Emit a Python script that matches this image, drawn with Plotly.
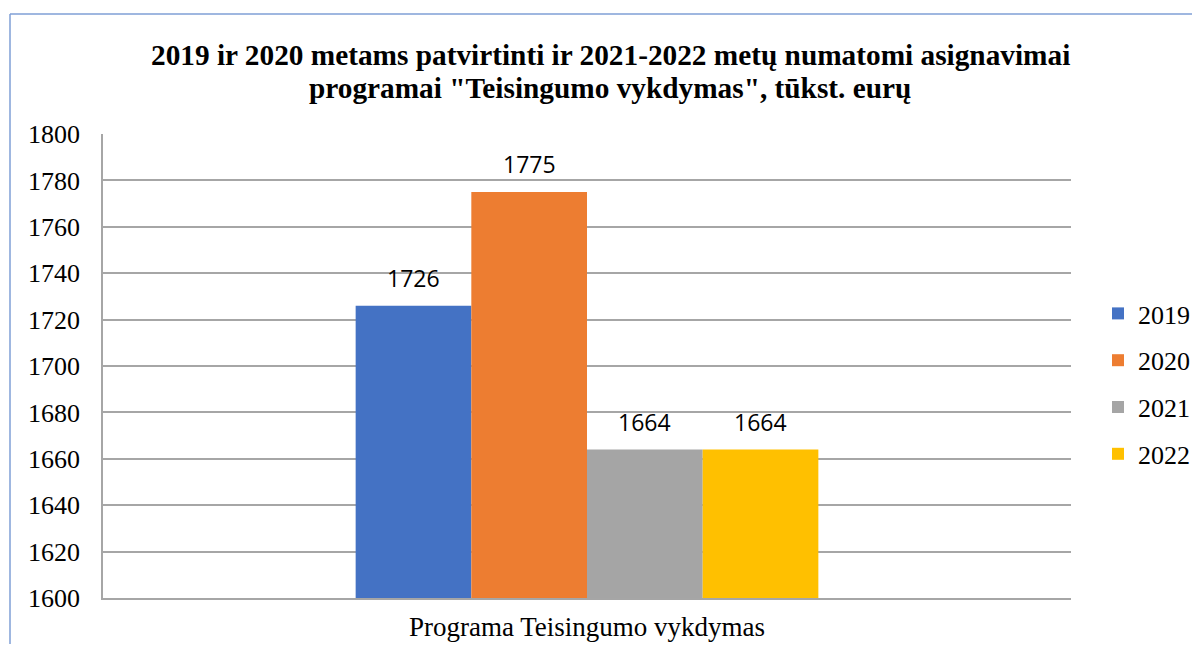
import plotly.graph_objects as go

title_lines = ['2019 ir 2020 metams patvirtinti ir 2021-2022 metų numatomi asignavimai',
               'programai "Teisingumo vykdymas", tūkst. eurų']
category = ['Programa Teisingumo vykdymas']
years = ['2019', '2020', '2021', '2022']
values = [1726, 1775, 1664, 1664]
colors = ['#4472C4', '#ED7D31', '#A5A5A5', '#FFC000']
y_ticks = [1600, 1620, 1640, 1660, 1680, 1700, 1720, 1740, 1760, 1780, 1800]

OFF = 8  # default page body margin
W, H = 1200 - 2 * OFF, 652 - 2 * OFF
ML, MT = 103 - OFF, 134 - OFF
MR = OFF + W - 1071
MB = OFF + H - 598
PW = W - ML - MR
PH = H - MT - MB
BARGAP = 0.522
bar_px = PW * (1 - BARGAP) / len(years)


def px_x(x):
    return (x - OFF - ML) / PW


def px_y(y):
    return (H - MB - (y - OFF)) / PH


fig = go.Figure()
for i, (yr, v, c) in enumerate(zip(years, values, colors)):
    fig.add_trace(go.Bar(x=category, y=[v], name=yr, marker=dict(color=c, line=dict(width=0)),
                         legendgroup=yr))
    fig.add_annotation(x=category[0], y=v, xref='x', yref='y', text=str(v), showarrow=False,
                       xshift=(i - (len(years) - 1) / 2) * bar_px, yshift=28,
                       font=dict(family='Open Sans', size=23, color='#000000'))

serif = 'Liberation Serif'
fig.update_layout(
    width=W, height=H,
    margin=dict(l=ML, r=MR, t=MT, b=MB, autoexpand=False),
    paper_bgcolor='white', plot_bgcolor='white',
    barmode='group', bargap=BARGAP, bargroupgap=0,
    showlegend=True,
    legend=dict(x=px_x(1098), y=px_y(384), xanchor='left', yanchor='middle',
                font=dict(family=serif, size=26, color='#000000'),
                tracegroupgap=10, itemwidth=30, bgcolor='rgba(0,0,0,0)'),
    xaxis=dict(showgrid=False, showline=True, linecolor='#A6A6A6', linewidth=1.5,
               ticks='', tickfont=dict(family=serif, size=27, color='#000000'),
               ticklabelstandoff=4),
    yaxis=dict(range=[1600, 1800], tickvals=y_ticks, ticktext=[str(t) for t in y_ticks],
               showgrid=True, gridcolor='#A6A6A6', gridwidth=1.5,
               showline=True, linecolor='#A6A6A6', linewidth=1.5, zeroline=False,
               ticks='', tickfont=dict(family=serif, size=26, color='#000000'),
               ticklabelstandoff=16),
)

fig.add_annotation(xref='paper', yref='paper', x=px_x(610), y=px_y(55),
                   text='<b>' + title_lines[0] + '</b>', showarrow=False,
                   font=dict(family=serif, size=29.3, color='#000000'), xanchor='center', yanchor='middle')
fig.add_annotation(xref='paper', yref='paper', x=px_x(610), y=px_y(88),
                   text='<b>' + title_lines[1] + '</b>', showarrow=False,
                   font=dict(family=serif, size=29.3, color='#000000'), xanchor='center', yanchor='middle')

# outer chart frame
bx = px_x(10)
by = px_y(14)
fig.add_shape(type='line', xref='paper', yref='paper', x0=bx, x1=bx, y0=by, y1=px_y(700),
              line=dict(color='#7F9FD6', width=1.5))
fig.add_shape(type='line', xref='paper', yref='paper', x0=bx, x1=px_x(1300), y0=by, y1=by,
              line=dict(color='#7F9FD6', width=1.5))

fig.write_html('out.html')
